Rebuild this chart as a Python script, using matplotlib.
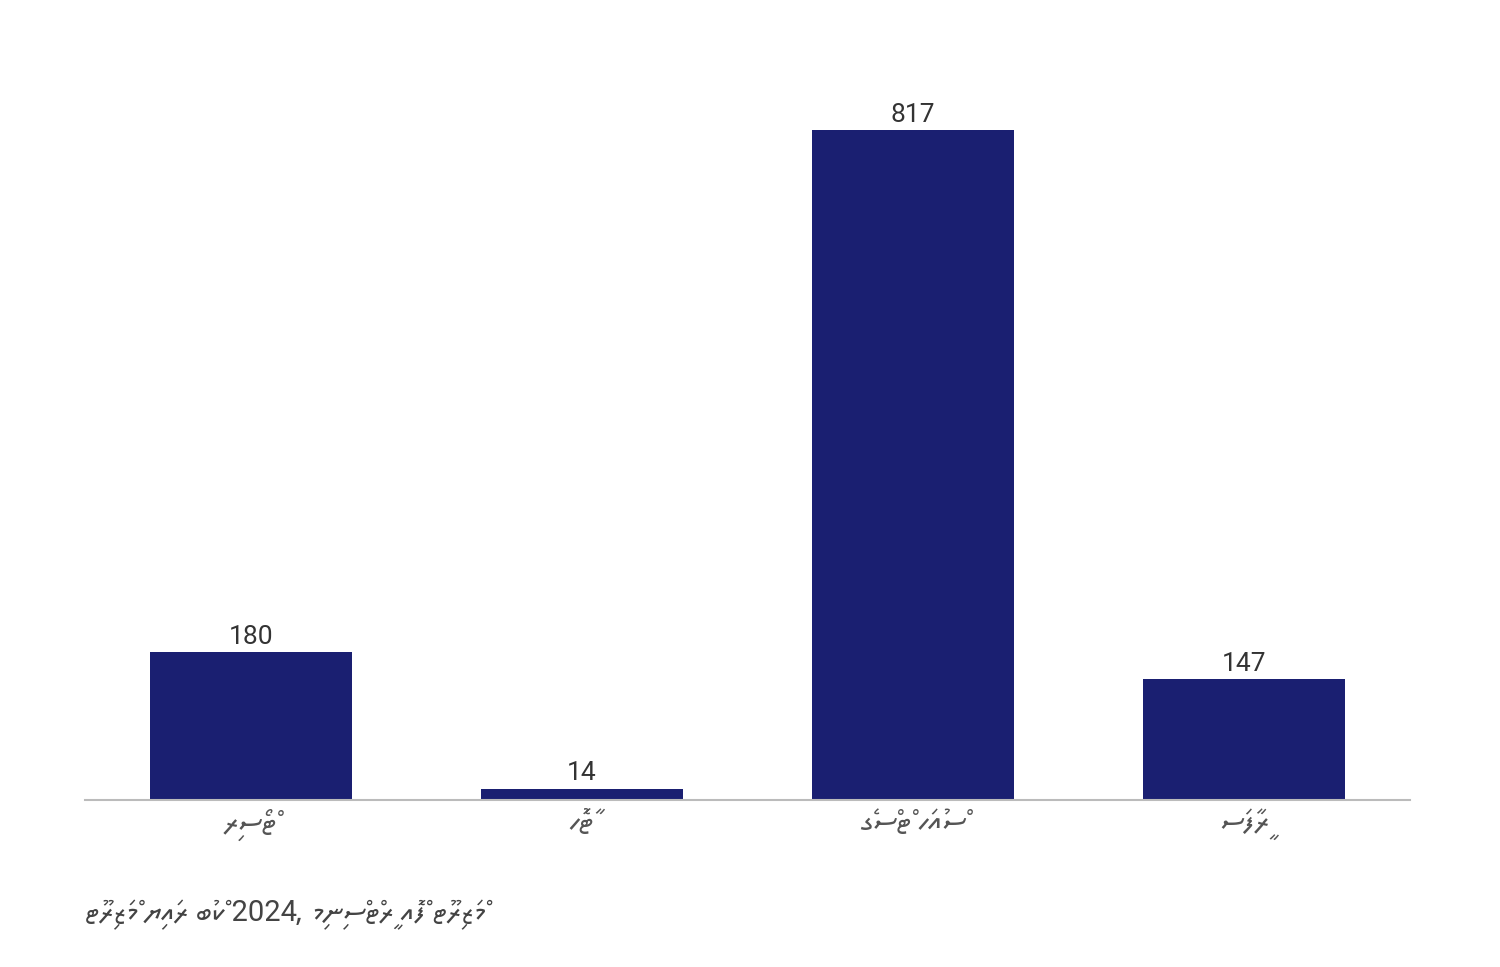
import matplotlib
matplotlib.use("Agg")
from matplotlib import pyplot as plt

# accommodation types (Dhivehi), counts
categories = ["ރިސޯޓް", "ހޮޓާ", "ގެސްޓް ހައުސް", "ސަފާރީ"]
values = [180, 14, 817, 147]
source = "ޓޫރިޒަމް ޔިއަރ ބުކް 2024، މިނިސްޓްރީ އޮފް ޓޫރިޒަމް"

plt.rcParams['font.family'] = ['Roboto', 'Noto Sans Thaana', 'DejaVu Sans']

fig = plt.figure(figsize=(15, 9.67), dpi=100)
ax = fig.add_axes([0.0567, 0.1727, 0.8833, 0.763])

x = range(len(categories))
ax.bar(x, values, width=0.61, color="#1a1f71", zorder=2)
# value labels above bars
for i, v in zip(x, values):
    ax.text(i, v + 10, str(v), ha="center", va="baseline", fontsize=19, color="#333333")

ax.set_xlim(-0.5, 3.5)
ax.set_ylim(0, 900)
ax.set_yticks([])
ax.set_xticks(list(x))
ax.set_xticklabels(categories, fontsize=22, color="#555555")
ax.tick_params(axis="x", length=0, pad=6)
for s in ["top", "left", "right"]:
    ax.spines[s].set_visible(False)
ax.spines["bottom"].set_color("#bbbbbb")
ax.spines["bottom"].set_linewidth(1.5)

fig.text(85 / 1500, 1 - 915 / 967, source, ha="left", va="center", fontsize=21,
         color="#444444")

fig.savefig("out.png", dpi=100, facecolor="white")
